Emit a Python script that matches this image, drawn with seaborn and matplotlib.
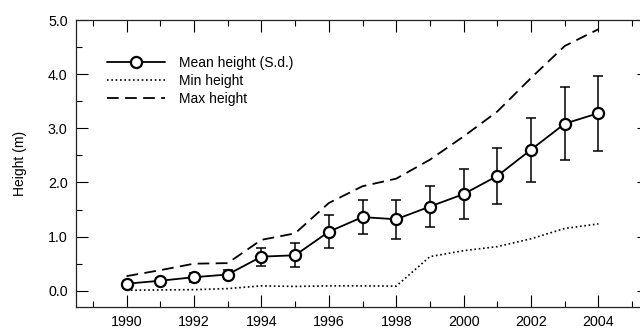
import matplotlib
matplotlib.use("Agg")
import matplotlib.pyplot as plt
import seaborn as sns
import pandas as pd
from matplotlib.ticker import MultipleLocator, FormatStrFormatter
from matplotlib.lines import Line2D

years = [1990, 1991, 1992, 1993, 1994, 1995, 1996, 1997, 1998, 1999, 2000, 2001, 2002, 2003, 2004]
mean_height = [0.13, 0.185, 0.25, 0.30, 0.63, 0.655, 1.09, 1.36, 1.32, 1.555, 1.785, 2.12, 2.605, 3.085, 3.28]
sd_height = [0.04, 0.05, 0.08, 0.09, 0.165, 0.22, 0.30, 0.31, 0.36, 0.38, 0.46, 0.52, 0.59, 0.67, 0.69]
min_height = [0.01, 0.015, 0.02, 0.04, 0.09, 0.08, 0.09, 0.09, 0.085, 0.63, 0.74, 0.815, 0.96, 1.15, 1.235]
max_height = [0.27, 0.38, 0.50, 0.51, 0.94, 1.06, 1.62, 1.93, 2.07, 2.42, 2.85, 3.31, 3.93, 4.52, 4.83]
labels = ["Mean height (S.d.)", "Min height", "Max height"]

df = pd.DataFrame({"year": years, "mean": mean_height, "sd": sd_height,
                   "min": min_height, "max": max_height})

sns.set_theme(style="ticks")
plt.rcParams["font.family"] = ["Liberation Sans", "DejaVu Sans"]
plt.rcParams["text.color"] = "black"
plt.rcParams["axes.labelcolor"] = "black"
plt.rcParams["xtick.color"] = "black"
plt.rcParams["ytick.color"] = "black"

fig = plt.figure(figsize=(6.4, 3.3), dpi=100)
W, H = 640, 330
left, right, top, bottom = 76, 649, 20, 307
ax = fig.add_axes([left / W, (H - bottom) / H, (right - left) / W, (bottom - top) / H])

sns.lineplot(data=df, x="year", y="max", ax=ax, color="black", lw=1.3,
             linestyle=(0, (6.5, 3.5)))
sns.lineplot(data=df, x="year", y="min", ax=ax, color="black", lw=1.2,
             linestyle=(0, (1, 1.6)))
ax.errorbar(df["year"], df["mean"], yerr=df["sd"], fmt="none", ecolor="black",
            elinewidth=1.1, capsize=3.8, capthick=1.1, zorder=3)
sns.lineplot(data=df, x="year", y="mean", ax=ax, color="black", lw=1.3,
             marker="o", markersize=8, markerfacecolor="white",
             markeredgecolor="black", markeredgewidth=1.6, zorder=4)

ax.set_xlim(1988.5, 2005.5)
ax.set_ylim(-0.3, 5.0)
ax.xaxis.set_major_locator(MultipleLocator(2))
ax.xaxis.set_minor_locator(MultipleLocator(1))
ax.yaxis.set_major_locator(MultipleLocator(1))
ax.yaxis.set_minor_locator(MultipleLocator(0.5))
ax.yaxis.set_major_formatter(FormatStrFormatter("%.1f"))
ax.tick_params(which="both", direction="in", top=True, right=True,
               width=0.8, color="black", labelcolor="black", labelsize=10.3, pad=6)
ax.tick_params(which="major", length=8.5)
ax.tick_params(which="minor", length=4.5)
for s in ax.spines.values():
    s.set_linewidth(0.9)
    s.set_color("#222222")
ax.set_xlabel("")
ax.set_ylabel("Height (m)", fontsize=10, labelpad=15, color="black")

handles = [
    Line2D([], [], color="black", lw=1.3, marker="o", markersize=8,
           markerfacecolor="white", markeredgewidth=1.6),
    Line2D([], [], color="black", lw=1.2, linestyle=(0, (1, 1.6))),
    Line2D([], [], color="black", lw=1.3, linestyle=(0, (6.5, 3.5))),
]
ax.legend(handles, labels, loc="upper left", bbox_to_anchor=(0.054, 0.875),
          frameon=False, fontsize=10, handlelength=4.2, handletextpad=1.0,
          labelspacing=0.3, borderpad=0, borderaxespad=0, labelcolor="black")

fig.savefig("out.png", dpi=100)
